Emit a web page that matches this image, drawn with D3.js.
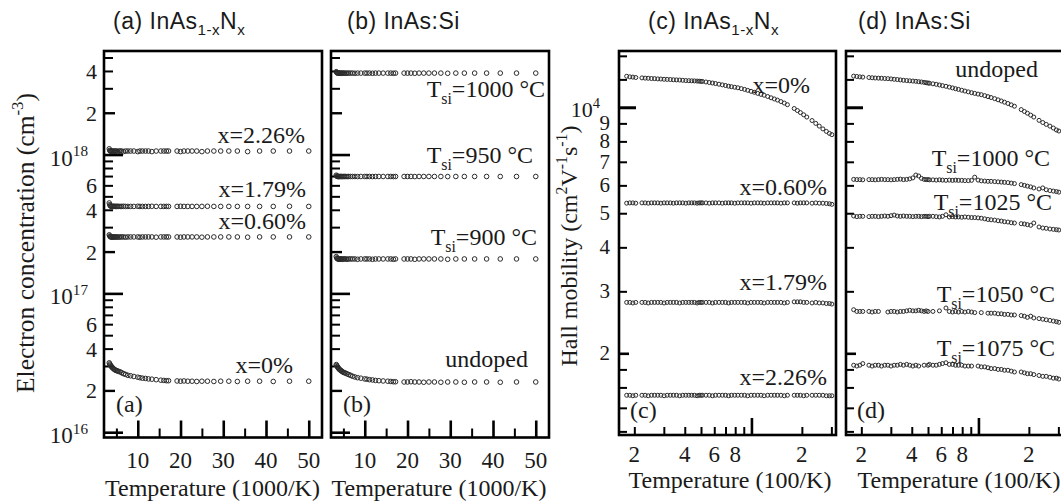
<!DOCTYPE html>
<html>
<head>
<meta charset="utf-8">
<script src="https://cdn.jsdelivr.net/npm/d3@7"></script>
<style>
  body { margin: 0; background: #fff; }
  svg { display: block; }
</style>
</head>
<body>
<svg id="fig" width="1061" height="503"></svg>
<script>
// ---------------- data ----------------
// Panels (a),(b): inverse temperature, 1000/K
const invT = [3.33, 3.45, 3.57, 3.70, 3.85, 4.00, 4.17, 4.35, 4.55, 4.76,
  5.00, 5.26, 5.56, 5.88, 6.25, 6.67, 7.14, 7.69, 8.33, 9.09,
  10.0, 10.5, 11.1, 11.8, 12.5, 13.3, 14.3, 15.4, 16.1, 16.7,
  17.2, 19.2, 20.0, 20.8, 21.7, 22.7, 23.8, 25.0, 26.3, 27.8,
  29.4, 31.3, 33.3, 35.7, 38.5, 41.7, 45.5, 50.0];

// Electron concentration, in units of 1e16 cm^-3
// (a) InAs1-xNx
const concX0 = [3.16, 3.10, 3.05, 3.01, 2.97, 2.93, 2.90, 2.86, 2.83, 2.80,
  2.78, 2.76, 2.74, 2.72, 2.68, 2.64, 2.61, 2.57, 2.55, 2.52,
  2.49, 2.47, 2.45, 2.44, 2.42, 2.41, 2.39, 2.37, 2.36, 2.35,
  2.35, 2.34, 2.33, 2.34, 2.33, 2.33, 2.32, 2.33, 2.33, 2.32,
  2.33, 2.33, 2.32, 2.33, 2.33, 2.32, 2.33, 2.33];
const concX060 = [26.4, 25.9, 25.6, 25.5, 25.5, 25.4, 25.5, 25.5, 25.5, 25.4,
  25.5, 25.5, 25.4, 25.5, 25.5, 25.5, 25.4, 25.5, 25.5, 25.5,
  25.5, 25.4, 25.5, 25.5, 25.5, 25.5, 25.4, 25.5, 25.5, 25.5,
  25.5, 25.5, 25.4, 25.5, 25.5, 25.5, 25.5, 25.4, 25.5, 25.5,
  25.5, 25.5, 25.5, 25.4, 25.5, 25.5, 25.5, 25.5];
const concX179 = [44.8, 43.5, 42.8, 42.5, 42.3, 42.4, 42.3, 42.3, 42.4, 42.3,
  42.3, 42.4, 42.3, 42.3, 42.3, 42.4, 42.3, 42.3, 42.3, 42.3,
  42.4, 42.3, 42.3, 42.3, 42.3, 42.4, 42.3, 42.3, 42.3, 42.3,
  42.3, 42.3, 42.4, 42.3, 42.3, 42.3, 42.3, 42.3, 42.4, 42.3,
  42.3, 42.3, 42.3, 42.3, 42.3, 42.3, 42.4, 42.3];
const concX226 = [110, 107, 106, 106, 105, 106, 106, 105, 106, 106,
  106, 105, 106, 106, 106, 105, 106, 106, 106, 106,
  105, 106, 106, 106, 106, 105, 106, 106, 106, 106,
  106, 106, 105, 106, 106, 106, 106, 105, 106, 106,
  106, 106, 106, 105, 106, 106, 106, 106];
// (b) InAs:Si
const concUndoped = [3.07, 3.02, 2.97, 2.93, 2.89, 2.85, 2.82, 2.79, 2.76, 2.73,
  2.70, 2.68, 2.66, 2.63, 2.60, 2.57, 2.53, 2.50, 2.47, 2.45,
  2.42, 2.41, 2.39, 2.38, 2.36, 2.35, 2.34, 2.33, 2.32, 2.31,
  2.31, 2.30, 2.30, 2.31, 2.30, 2.30, 2.29, 2.30, 2.30, 2.29,
  2.30, 2.30, 2.29, 2.30, 2.30, 2.29, 2.30, 2.30];
const concT900 = [18.4, 18.0, 17.8, 17.7, 17.7, 17.6, 17.7, 17.7, 17.7, 17.6,
  17.7, 17.7, 17.7, 17.6, 17.7, 17.7, 17.7, 17.7, 17.6, 17.7,
  17.7, 17.7, 17.7, 17.6, 17.7, 17.7, 17.7, 17.7, 17.7, 17.6,
  17.7, 17.7, 17.7, 17.7, 17.6, 17.7, 17.7, 17.7, 17.7, 17.7,
  17.6, 17.7, 17.7, 17.7, 17.7, 17.7, 17.7, 17.7];
const concT950 = [71.0, 70.0, 69.6, 69.5, 69.5, 69.4, 69.5, 69.5, 69.5, 69.4,
  69.5, 69.5, 69.5, 69.4, 69.5, 69.5, 69.5, 69.5, 69.4, 69.5,
  69.5, 69.5, 69.5, 69.4, 69.5, 69.5, 69.5, 69.5, 69.5, 69.4,
  69.5, 69.5, 69.5, 69.5, 69.4, 69.5, 69.5, 69.5, 69.5, 69.5,
  69.4, 69.5, 69.5, 69.5, 69.5, 69.5, 69.5, 69.5];
const concT1000 = [395, 390, 387, 386, 386, 385, 386, 386, 385, 386,
  386, 386, 385, 386, 386, 386, 386, 385, 386, 386,
  386, 386, 386, 385, 386, 386, 386, 386, 386, 385,
  386, 386, 386, 386, 385, 386, 386, 386, 386, 386,
  385, 386, 386, 386, 386, 386, 386, 386];

// Panels (c),(d): temperature axis values
const tempC = [1.80, 1.88, 1.96, 2.04, 2.22, 2.32, 2.42, 2.53, 2.64, 2.76,
  2.88, 3.01, 3.14, 3.28, 3.42, 3.57, 3.73, 3.89, 4.06, 4.23,
  4.40, 4.57, 4.74, 4.88, 5.00, 5.10, 5.35, 5.60, 5.85, 6.10,
  6.40, 6.70, 7.00, 7.30, 7.60, 7.95, 8.30, 8.70, 9.10, 9.50,
  9.95, 10.4, 10.9, 11.4, 11.9, 12.5, 13.1, 13.7, 14.3, 15.0,
  15.7, 16.4, 18.0, 18.8, 19.6, 20.5, 21.4, 23.0, 24.2, 25.4,
  26.7, 28.0, 29.2, 30.2];

// Hall mobility, cm^2 V^-1 s^-1
// (c) InAs1-xNx
const mobX0 = [12250, 12200, 12180, 12150, 12120, 12100, 12090, 12070, 12060, 12040,
  12030, 12010, 12000, 11990, 11970, 11960, 11950, 11930, 11910, 11900,
  11890, 11880, 11870, 11860, 11850, 11840, 11800, 11760, 11720, 11680,
  11630, 11580, 11530, 11480, 11440, 11400, 11360, 11300, 11240, 11170,
  11100, 11030, 10950, 10880, 10820, 10730, 10640, 10560, 10480, 10380,
  10280, 10170, 9920, 9790, 9660, 9520, 9380, 9170, 9000, 8840,
  8680, 8540, 8430, 8360];
const mobX060 = [5340, 5350, 5350, 5340, 5350, 5350, 5340, 5350, 5350, 5350,
  5340, 5350, 5350, 5350, 5340, 5350, 5350, 5350, 5340, 5350,
  5350, 5350, 5340, 5350, 5350, 5350, 5350, 5340, 5350, 5350,
  5350, 5340, 5350, 5350, 5350, 5340, 5350, 5350, 5350, 5350,
  5340, 5350, 5350, 5350, 5340, 5350, 5350, 5350, 5350, 5340,
  5350, 5350, 5350, 5340, 5350, 5350, 5350, 5340, 5350, 5340,
  5340, 5330, 5320, 5300];
const mobX179 = [2790, 2790, 2780, 2790, 2790, 2790, 2780, 2790, 2790, 2790,
  2790, 2780, 2790, 2790, 2790, 2790, 2780, 2790, 2790, 2790,
  2790, 2790, 2780, 2790, 2790, 2790, 2790, 2790, 2780, 2790,
  2790, 2790, 2790, 2780, 2790, 2790, 2790, 2790, 2790, 2780,
  2790, 2790, 2790, 2790, 2780, 2790, 2790, 2790, 2790, 2790,
  2780, 2790, 2800, 2800, 2800, 2790, 2790, 2780, 2790, 2780,
  2780, 2770, 2770, 2760];
const mobX226 = [1520, 1520, 1515, 1520, 1520, 1520, 1515, 1520, 1520, 1520,
  1520, 1515, 1520, 1520, 1520, 1520, 1515, 1520, 1520, 1520,
  1520, 1520, 1515, 1520, 1520, 1520, 1520, 1520, 1515, 1520,
  1520, 1520, 1520, 1515, 1520, 1520, 1520, 1520, 1520, 1515,
  1520, 1520, 1520, 1520, 1515, 1520, 1520, 1520, 1520, 1520,
  1515, 1520, 1520, 1520, 1520, 1515, 1520, 1520, 1520, 1520,
  1520, 1515, 1515, 1515];
// (d) InAs:Si  (null = no reading at that temperature)
const mobUndoped = [12260, 12230, 12200, 12180, 12150, 12130, 12110, 12100, 12090, 12070,
  12060, 12040, 12010, 11990, 11960, 11930, 11910, 11890, 11870, 11850,
  11820, 11800, 11770, 11740, 11720, 11700, 11660, 11620, 11570, 11520,
  11470, 11410, 11350, 11290, 11240, 11180, 11120, 11060, 11000, 10950,
  10900, 10860, 10790, 10720, 10660, 10580, 10500, 10420, 10340, 10250,
  10160, 10070, 9850, 9730, 9620, 9500, 9380, 9180, 9050, 8940,
  8840, 8730, 8620, 8560];
const mobT1000 = [6240, 6230, 6230, 6220, 6230, 6230, 6220, 6230, 6240, 6230,
  6230, 6220, 6230, 6240, 6250, 6230, 6240, 6260, 6300, 6420,
  6380, 6280, 6240, 6230, 6230, 6220, 6220, 6210, 6220, 6210,
  6200, 6210, 6200, 6210, 6200, 6200, 6190, 6190, 6200, 6330,
  6210, 6180, 6170, 6160, 6160, 6150, 6140, 6130, 6120, 6110,
  6090, 6070, 6030, 6000, 5970, 5940, 5900, 5860, 5900, 5830,
  5800, 5780, 5760, 5740];
const mobT1025 = [4910, 4890, 4900, 4900, 4890, 4900, 4900, 4890, 4900, 4910,
  4900, 4920, 4940, 4910, 4900, 4910, 4900, 4900, 4890, 4900,
  4900, 4890, 4900, 4900, 4890, 4900, 4900, 4890, 4880, 4900,
  4950, 4880, 4890, 4880, 4880, 4870, 4880, 4870, 4860, 4860,
  4850, 4840, 4820, 4800, 4790, 4780, 4760, 4750, 4730, 4720,
  4700, 4690, 4670, 4660, 4640, 4620, 4690, 4570, 4540, 4530,
  4510, 4500, 4490, 4480];
const mobT1050 = [2660, 2630, 2630, 2630, 2630, 2620, 2630, 2630, null, null,
  2620, 2630, 2630, 2620, 2630, 2630, 2640, 2650, 2640, 2640,
  2650, 2640, 2630, 2640, 2630, null, 2630, null, 2640, null,
  2690, 2630, 2620, 2630, 2620, 2630, 2620, 2630, 2620, 2610,
  null, 2610, null, 2600, 2600, 2600, 2590, 2590, 2580, 2580,
  2570, 2570, 2560, 2550, 2530, 2550, 2520, 2510, 2500, 2490,
  2480, 2470, 2460, 2450];
const mobT1075 = [1850, 1840, 1850, 1870, 1850, 1840, 1850, 1850, 1840, 1850,
  1850, 1840, 1850, 1850, 1860, 1850, 1860, 1850, 1840, 1850,
  1840, null, 1850, null, 1850, 1860, 1850, 1850, 1860, 1870,
  1880, 1860, 1860, 1850, 1850, 1850, 1840, 1840, 1840, null,
  1840, 1830, 1830, 1820, 1810, 1810, 1800, 1800, 1790, 1790,
  1780, 1770, 1770, 1760, 1750, 1750, 1740, 1730, 1720, 1720,
  1710, 1700, 1700, 1690];

// Tick values and labels
const concMajorY = [1, 10, 100];
const concTwoY = [2, 20, 200];
const concMinorY = [3, 4, 5, 6, 7, 8, 9, 30, 40, 50, 60, 70, 80, 90, 300, 400, 500];
const concYLabels = [[400, "4"], [200, "2"], [60, "6"], [40, "4"], [20, "2"], [6, "6"], [4, "4"], [2, "2"]];
const concDecadeLabels = [[100, "18"], [10, "17"], [1, "16"]];
const concMajorX = [10, 20, 30, 40, 50];
const concMinorX = [5, 15, 25, 35, 45];

const mobMinorY = [1200, 1400, 1600, 1800, 3000, 4000, 5000, 6000, 7000, 8000, 9000, 12000, 14000];
const mobYLabels = [[2000, "2"], [3000, "3"], [4000, "4"], [5000, "5"], [6000, "6"], [7000, "7"], [8000, "8"], [9000, "9"]];
const mobMinorX = [2, 3, 4, 5, 6, 7, 8, 9, 20, 30];
const mobXLabels = [[2, "2"], [4, "4"], [6, "6"], [8, "8"], [20, "2"]];

// ---------------- drawing ----------------
const SERIF = "'Liberation Serif','Times New Roman',serif";
const SANS = "'Liberation Sans',Arial,sans-serif";
const INK = "#1a1a1a";
const svg = d3.select("#fig");

function rich(g, x, y, parts, o = {}) {
  const size = o.size || 24;
  const t = g.append("text")
    .attr("x", x).attr("y", y)
    .attr("font-family", o.family || SERIF)
    .attr("font-size", size)
    .attr("text-anchor", o.anchor || "start")
    .attr("fill", o.fill || INK);
  if (o.spacing) t.attr("letter-spacing", o.spacing);
  if (o.rotate != null) t.attr("transform", `rotate(${o.rotate},${x},${y})`);
  let shift = 0;
  parts.forEach(p => {
    const s = t.append("tspan").text(p.t);
    let target = 0;
    if (p.sub) { target = size * (o.subShift || 0.28); s.attr("font-size", size * (o.small || 0.66)); }
    else if (p.sup) { target = -size * (o.supShift || 0.42); s.attr("font-size", size * (o.small || 0.66)); }
    if (target - shift !== 0) s.attr("dy", target - shift);
    shift = target;
  });
  return t;
}

function yTicks(g, scale, x0, vals, len, w) {
  const a = g.append("g").attr("transform", `translate(${x0},0)`)
    .call(d3.axisLeft(scale).tickValues(vals).tickSize(-len).tickFormat(""));
  a.select(".domain").remove();
  a.selectAll("line").attr("stroke", "#000").attr("stroke-width", w);
}
function xTicks(g, scale, y0, vals, len, w) {
  const a = g.append("g").attr("transform", `translate(0,${y0})`)
    .call(d3.axisBottom(scale).tickValues(vals).tickSize(-len).tickFormat(""));
  a.select(".domain").remove();
  a.selectAll("line").attr("stroke", "#000").attr("stroke-width", w);
}
function dots(g, xs, ys, x, y, r) {
  const pts = xs.map((v, i) => [v, ys[i]]).filter(d => d[1] != null);
  g.append("g").selectAll("circle").data(pts).join("circle")
    .attr("cx", d => x(d[0])).attr("cy", d => y(d[1])).attr("r", r)
    .attr("fill", "none").attr("stroke", "#2b2b2b").attr("stroke-width", 1);
}
function frame(g, x0, x1, y0, y1) {
  g.append("rect").attr("x", x0).attr("y", y0).attr("width", x1 - x0).attr("height", y1 - y0)
    .attr("fill", "none").attr("stroke", "#000").attr("stroke-width", 2.6);
}

// ---- electron concentration panels (a), (b)
const CT = 51, CB = 437.5, CW = 218;
function concPanel(x0, series, withLabels, axisTitleX, tag) {
  const g = svg.append("g");
  const x = d3.scaleLinear().domain([2.1, 53.1]).range([x0, x0 + CW]);
  const y = d3.scaleLog().domain([0.916, 557]).range([CB, CT]);
  yTicks(g, y, x0, concMinorY, 9, 2);
  yTicks(g, y, x0, concTwoY, 11, 2.4);
  yTicks(g, y, x0, concMajorY, 19, 2.6);
  xTicks(g, x, CB, concMinorX, 9, 2);
  xTicks(g, x, CB, concMajorX, 17, 2.6);
  series.forEach(s => dots(g, invT, s, x, y, 2.3));
  frame(g, x0, x0 + CW, CT, CB);
  if (withLabels) {
    concYLabels.forEach(([v, s]) =>
      g.append("text").attr("x", x0 - 7).attr("y", y(v) + 8).attr("text-anchor", "end")
        .attr("font-family", SERIF).attr("font-size", 22).attr("fill", INK).text(s));
    concDecadeLabels.forEach(([v, s]) =>
      rich(g, x0 - 16, y(v) + 11, [{ t: "10" }, { t: s, sup: true }], { size: 23, anchor: "end" }));
  }
  concMajorX.forEach(v =>
    g.append("text").attr("x", x(v)).attr("y", 468).attr("text-anchor", "middle")
      .attr("font-family", SERIF).attr("font-size", 23).attr("fill", INK).text(v));
  g.append("text").attr("x", axisTitleX).attr("y", 496).attr("text-anchor", "middle")
    .attr("font-family", SERIF).attr("font-size", 24).attr("fill", INK).text("Temperature (1000/K)");
  g.append("text").attr("x", x0 + 12).attr("y", 412).attr("font-family", SERIF)
    .attr("font-size", 24).attr("fill", INK).text(tag);
  return g;
}

const ga = concPanel(104, [concX0, concX060, concX179, concX226], true, 212.5, "(a)");
const gb = concPanel(331, [concUndoped, concT900, concT950, concT1000], false, 439, "(b)");

rich(ga, 305, 143, [{ t: "x=2.26%" }], { anchor: "end" });
rich(ga, 306, 197, [{ t: "x=1.79%" }], { anchor: "end" });
rich(ga, 306, 229, [{ t: "x=0.60%" }], { anchor: "end" });
rich(ga, 293, 373, [{ t: "x=0%" }], { anchor: "end" });

rich(gb, 545, 97, [{ t: "T" }, { t: "si", sub: true }, { t: "=1000 °C" }], { anchor: "end" });
rich(gb, 533, 163, [{ t: "T" }, { t: "si", sub: true }, { t: "=950 °C" }], { anchor: "end" });
rich(gb, 537, 245, [{ t: "T" }, { t: "si", sub: true }, { t: "=900 °C" }], { anchor: "end" });
rich(gb, 528, 367, [{ t: "undoped" }], { anchor: "end" });

rich(svg, 34, 243, [{ t: "Electron concentration (cm" }, { t: "-3", sup: true }, { t: ")" }],
  { size: 25.5, anchor: "middle", rotate: -90 });

// ---- Hall mobility panels (c), (d)
const MT = 51, MB = 435, MW = 217;
function mobPanel(x0, series, withLabels, axisTitleX, tag) {
  const g = svg.append("g");
  const x = d3.scaleLog().domain([1.62, 31.97]).range([x0, x0 + MW]);
  const y = d3.scaleLog().domain([1172, 14450]).range([MB, MT]);
  yTicks(g, y, x0, mobMinorY, 8, 2);
  yTicks(g, y, x0, [2000], 10, 2.6);
  yTicks(g, y, x0, [10000], 17, 3);
  xTicks(g, x, MB, mobMinorX, 8, 2);
  xTicks(g, x, MB, [10], 17, 2.6);
  series.forEach(s => dots(g, tempC, s, x, y, 2.0));
  frame(g, x0, x0 + MW, MT, MB);
  if (withLabels) {
    mobYLabels.forEach(([v, s]) =>
      g.append("text").attr("x", x0 - 9).attr("y", y(v) + 7).attr("text-anchor", "end")
        .attr("font-family", SERIF).attr("font-size", 21).attr("fill", INK).text(s));
    rich(g, x0 - 19, y(10000) + 10, [{ t: "10" }, { t: "4", sup: true }], { size: 22, anchor: "end" });
  }
  mobXLabels.forEach(([v, s]) =>
    g.append("text").attr("x", x(v)).attr("y", 461.5).attr("text-anchor", "middle")
      .attr("font-family", SERIF).attr("font-size", 23).attr("fill", INK).text(s));
  g.append("text").attr("x", axisTitleX).attr("y", 488).attr("text-anchor", "middle")
    .attr("font-family", SERIF).attr("font-size", 24).attr("fill", INK).text("Temperature (100/K)");
  g.append("text").attr("x", x0 + 11).attr("y", 418).attr("font-family", SERIF)
    .attr("font-size", 24).attr("fill", INK).text(tag);
  return g;
}

const gc = mobPanel(619, [mobX0, mobX060, mobX179, mobX226], true, 730, "(c)");
const gd = mobPanel(846, [mobUndoped, mobT1000, mobT1025, mobT1050, mobT1075], false, 959, "(d)");

rich(gc, 810, 93, [{ t: "x=0%" }], { anchor: "end" });
rich(gc, 827, 195, [{ t: "x=0.60%" }], { anchor: "end" });
rich(gc, 827, 290, [{ t: "x=1.79%" }], { anchor: "end" });
rich(gc, 827, 385, [{ t: "x=2.26%" }], { anchor: "end" });

rich(gd, 1038, 77, [{ t: "undoped" }], { anchor: "end" });
rich(gd, 1050, 166, [{ t: "T" }, { t: "si", sub: true }, { t: "=1000 °C" }], { anchor: "end" });
rich(gd, 1052, 210, [{ t: "T" }, { t: "si", sub: true }, { t: "=1025 °C" }], { anchor: "end" });
rich(gd, 1055, 302, [{ t: "T" }, { t: "si", sub: true }, { t: "=1050 °C" }], { anchor: "end" });
rich(gd, 1055, 356, [{ t: "T" }, { t: "si", sub: true }, { t: "=1075 °C" }], { anchor: "end" });

rich(svg, 577, 246, [{ t: "Hall mobility (cm" }, { t: "2", sup: true }, { t: "V" }, { t: "-1", sup: true },
  { t: "s" }, { t: "-1", sup: true }, { t: ")" }], { anchor: "middle", rotate: -90 });

// ---- panel titles
const titleOpts = { family: SANS, size: 23, small: 0.66, subShift: 0.25, spacing: 0.5 };
rich(svg, 113, 29, [{ t: "(a) InAs" }, { t: "1-x", sub: true }, { t: "N" }, { t: "x", sub: true }], titleOpts);
rich(svg, 347, 29, [{ t: "(b) InAs:Si" }], titleOpts);
rich(svg, 648, 29, [{ t: "(c) InAs" }, { t: "1-x", sub: true }, { t: "N" }, { t: "x", sub: true }], titleOpts);
rich(svg, 858, 29, [{ t: "(d) InAs:Si" }], titleOpts);
</script>
</body>
</html>
